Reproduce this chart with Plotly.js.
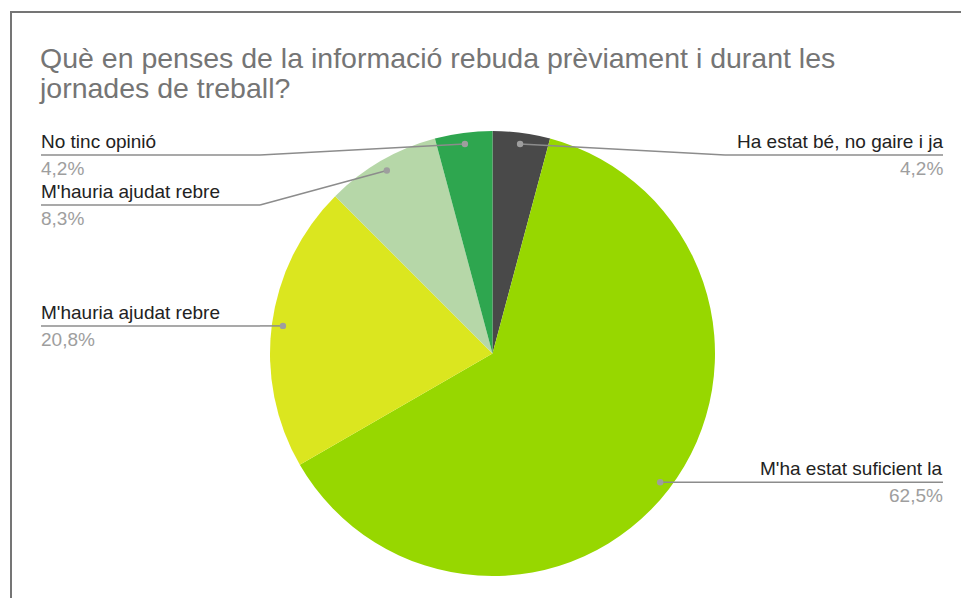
<!DOCTYPE html>
<html><head><meta charset="utf-8">
<script src="https://cdn.plot.ly/plotly-3.0.1.min.js"></script>
<style>html,body{margin:0;padding:0;background:#fff}#chart{width:961px;height:598px}</style>
</head><body><div id="chart"></div>
<script>
// ---- data ----
const titleText = "Què en penses de la informació rebuda prèviament i durant les<br>jornades de treball?";
const categories = ["Ha estat bé, no gaire i ja", "M'ha estat suficient la", "M'hauria ajudat rebre", "M'hauria ajudat rebre", "No tinc opinió"];
const responses = [1, 15, 5, 2, 1];
const sliceColors = ["#494949", "#97d700", "#dbe61f", "#b6d7a8", "#2ea64f"];

// ---- layout constants ----
const W = 961, H = 598;
const pieCx = 492.5, pieCy = 353.5, pieR = 222.5;
const FONT = "Liberation Sans, Arial, sans-serif";
const labelFs = 19;
const leftTextX = 39, rightTextX = 945;
const labelTop = 155, labelGap = 50, dotFrac = 0.95, elbowPad = 10;

const px = x => x / W;
const py = y => 1 - y / H;

const total = responses.reduce((a, b) => a + b, 0);
const shapes = [];
const annotations = [];

// frame border (left + top)
shapes.push({type:'line', xref:'paper', yref:'paper', x0:px(11), x1:px(11), y0:py(11), y1:py(H), line:{color:'#757575', width:2}});
shapes.push({type:'line', xref:'paper', yref:'paper', x0:px(10), x1:px(W), y0:py(12), y1:py(12), line:{color:'#757575', width:2}});

// compute label anchors from slice angles
let cum = 0;
const items = responses.map((v, i) => {
  const a = (cum + v / 2) / total * 2 * Math.PI;
  cum += v;
  const r = pieR * dotFrac;
  return {i, dx: pieCx + r * Math.sin(a), dy: pieCy - r * Math.cos(a), right: Math.sin(a) >= 0};
});

[true, false].forEach(side => {
  const list = items.filter(it => it.right === side).sort((a, b) => a.dy - b.dy);
  let prev = -Infinity;
  list.forEach(it => {
    const L = Math.max(it.dy, labelTop, prev + labelGap);
    prev = L;
    const edgeX = side ? rightTextX : leftTextX;
    const lineX = side ? rightTextX - 2 : leftTextX + 2;
    const elbowX = side ? pieCx + pieR + elbowPad : pieCx - pieR - elbowPad;
    shapes.push({type:'line', xref:'paper', yref:'paper', x0:px(lineX), x1:px(elbowX), y0:py(L), y1:py(L), line:{color:'#8c8c8c', width:1.5}});
    shapes.push({type:'line', xref:'paper', yref:'paper', x0:px(elbowX), x1:px(it.dx), y0:py(L), y1:py(it.dy), line:{color:'#8c8c8c', width:1.5}});
    shapes.push({type:'circle', xref:'paper', yref:'paper', xsizemode:'pixel', ysizemode:'pixel',
      xanchor:px(it.dx), yanchor:py(it.dy), x0:-3.2, x1:3.2, y0:-3.2, y1:3.2,
      fillcolor:'#9e9e9e', line:{width:0}});
    const pct = (responses[it.i] / total * 100).toFixed(1).replace('.', ',') + '%';
    annotations.push({xref:'paper', yref:'paper', x:px(edgeX), y:py(L - 7 - 0.3465 * labelFs),
      xanchor: side ? 'right' : 'left', yanchor:'middle', showarrow:false, text:categories[it.i],
      font:{family:FONT, size:labelFs, color:'#222222'}});
    annotations.push({xref:'paper', yref:'paper', x:px(edgeX), y:py(L + 20 - 0.3465 * labelFs),
      xanchor: side ? 'right' : 'left', yanchor:'middle', showarrow:false, text:pct,
      font:{family:FONT, size:labelFs, color:'#9e9e9e'}});
  });
});

const trace = {
  type:'pie',
  values: responses,
  marker:{colors: sliceColors, line:{width:0}},
  sort:false, direction:'clockwise', rotation:0,
  textinfo:'none', hoverinfo:'none',
  domain:{x:[px(pieCx - pieR), px(pieCx + pieR)], y:[py(pieCy + pieR), py(pieCy - pieR)]},
  showlegend:false
};

const layout = {
  width:W, height:H,
  margin:{l:0, r:0, t:0, b:0},
  paper_bgcolor:'#ffffff',
  showlegend:false,
  title:{text:titleText, x:px(40), xanchor:'left', xref:'paper', y:py(68), yanchor:'top', yref:'container',
    font:{family:FONT, size:28.5, color:'#757575'}},
  shapes, annotations
};

Plotly.newPlot('chart', [trace], layout, {displayModeBar:false, staticPlot:true}).then(gd => {
  // tighten the title's line spacing to match the reference
  const lines = gd.querySelectorAll('.gtitle tspan.line');
  for (let k = 1; k < lines.length; k++) lines[k].setAttribute('dy', '30');
});
</script>
</body></html>
